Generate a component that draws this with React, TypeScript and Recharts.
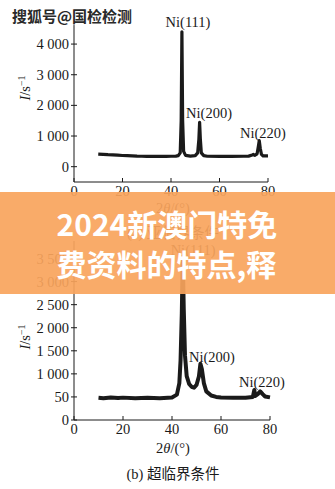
import React from 'react';
import { LineChart, Line, XAxis, YAxis, ReferenceDot } from 'recharts';

// 2θ positions and intensities
const TOP_X = [10, 12, 14, 16, 18, 20, 22, 24, 26, 28, 30, 32, 34, 36, 38, 40, 42, 43, 43.8, 44.2, 44.5, 44.8, 45.2, 46, 48, 50, 51, 51.5, 51.8, 52.1, 52.5, 53.5, 55, 60, 65, 70, 72, 73.5, 74, 74.5, 75.5, 76, 76.4, 76.8, 77.3, 78, 80];
const TOP_Y = [410, 400, 390, 385, 375, 365, 360, 355, 345, 340, 335, 335, 335, 335, 335, 340, 345, 360, 450, 1500, 4400, 1500, 500, 370, 345, 360, 450, 900, 1450, 900, 450, 360, 340, 335, 335, 340, 345, 380, 400, 370, 420, 650, 850, 600, 400, 350, 355];

const BOT_X = [10, 12, 15, 18, 20, 25, 30, 35, 40, 42, 43, 43.5, 44, 44.4, 44.8, 45.3, 46, 47, 48, 49, 50, 51, 51.6, 52.2, 53, 54, 56, 58, 60, 65, 70, 73, 73.6, 74, 75, 76, 77, 78, 80];
const BOT_Y = [480, 470, 490, 475, 485, 470, 480, 470, 490, 550, 800, 1300, 2300, 3550, 2400, 1400, 950, 780, 720, 700, 760, 950, 1220, 1100, 800, 620, 530, 500, 490, 480, 480, 500, 650, 520, 560, 620, 560, 510, 490];

const X_TICKS = [0, 20, 40, 60, 80];
const TOP_Y_TICKS = [0, 1000, 2000, 3000, 4000];
const TOP_Y_LABELS = ['0', '1 000', '2 000', '3 000', '4 000'];
const BOT_Y_TICKS = [0, 500, 1000, 1500, 2000, 2500, 3000, 3500];
const BOT_Y_LABELS = ['0', '50', '1 000', '1 500', '2 000', '2 500', '3 000', '3 500'];

const TOP_PEAKS = [
  { name: 'Ni(111)', x: 47, y: 4720 },
  { name: 'Ni(200)', x: 55.7, y: 1760 },
  { name: 'Ni(220)', x: 77.9, y: 1107 },
];
const BOT_PEAKS = [
  { name: 'Ni(111)', x: 48.6, y: 3680 },
  { name: 'Ni(200)', x: 56.3, y: 1364 },
  { name: 'Ni(220)', x: 76.7, y: 823 },
];

const SERIF = '"Liberation Serif", "DejaVu Serif", serif';
const CJK = '"Noto Sans CJK SC", sans-serif';
const INK = '#1a1a1a';
const FS = 14.5;
const PLOT_LEFT = 74;

const topData = TOP_X.map((x, i) => ({ x, y: TOP_Y[i] }));
const botData = BOT_X.map((x, i) => ({ x, y: BOT_Y[i] }));

const yTick = (ticks: number[], labels: string[]) => (props: any) => {
  const { y, payload } = props;
  const label = labels[ticks.indexOf(payload.value)] ?? String(payload.value);
  return (
    <g>
      <line x1={PLOT_LEFT - 3} x2={PLOT_LEFT + 3} y1={y} y2={y} stroke={INK} strokeWidth={1} />
      <text x={PLOT_LEFT - 5} y={y} dy={5} textAnchor="end" fontFamily={SERIF} fontSize={FS} fill={INK}>
        {label}
      </text>
    </g>
  );
};

const xTick = (axisY: number) => (props: any) => {
  const { x, payload } = props;
  return (
    <g>
      <line x1={x} x2={x} y1={axisY} y2={axisY - 4} stroke={INK} strokeWidth={1} />
      <text x={x} y={axisY + 14} textAnchor="middle" fontFamily={SERIF} fontSize={FS} fill={INK}>
        {payload.value}
      </text>
    </g>
  );
};

function Pattern({ data, height, margin, yDomain, yTicks, yLabels, peaks, axisY, lineWidth }: any) {
  return (
    <LineChart width={335} height={height} data={data} margin={margin}>
      <XAxis
        dataKey="x"
        type="number"
        domain={[0, 80]}
        ticks={X_TICKS}
        interval={0}
        height={20}
        tickLine={false}
        axisLine={{ stroke: INK }}
        tick={xTick(axisY)}
      />
      <YAxis
        type="number"
        domain={yDomain}
        ticks={yTicks}
        interval={0}
        width={30}
        tickLine={false}
        axisLine={{ stroke: INK }}
        tick={yTick(yTicks, yLabels)}
        allowDataOverflow
      />
      <Line type="linear" dataKey="y" stroke={INK} strokeWidth={lineWidth} strokeLinejoin="round" dot={false} isAnimationActive={false} />
      {peaks.map((p: any) => (
        <ReferenceDot
          key={p.name}
          x={p.x}
          y={p.y}
          r={0}
          ifOverflow="visible"
          label={{ value: p.name, position: 'center', fontFamily: SERIF, fontSize: FS, fill: INK }}
        />
      ))}
    </LineChart>
  );
}

const abs = (s: React.CSSProperties): React.CSSProperties => ({ position: 'absolute', ...s });

function YTitle({ cy }: { cy: number }) {
  return (
    <div style={abs({ left: 25, top: cy, transform: 'translate(-50%, -50%) rotate(-90deg)', fontFamily: SERIF, fontSize: FS, color: INK, whiteSpace: 'nowrap' })}>
      <i>I</i>/s<sup style={{ fontSize: 10 }}>−1</sup>
    </div>
  );
}

function XTitle({ cy }: { cy: number }) {
  return (
    <div style={abs({ left: 173, top: cy, transform: 'translate(-50%, -50%)', fontFamily: SERIF, fontSize: FS, color: INK, whiteSpace: 'nowrap' })}>
      2<i>θ</i>/(°)
    </div>
  );
}

function Caption({ cy, text }: { cy: number; text: string }) {
  return (
    <div style={abs({ left: 173, top: cy, transform: 'translate(-50%, -50%)', fontSize: FS, color: INK, whiteSpace: 'nowrap' })}>
      <span style={{ fontFamily: SERIF }}>{text.slice(0, 4)}</span>
      <span style={{ fontFamily: CJK }}>{text.slice(4)}</span>
    </div>
  );
}

export default function App() {
  return (
    <div style={abs({ left: 0, top: 0, width: 335, height: 489, background: '#fff', overflow: 'hidden' })}>
      <div style={abs({ left: 0, top: 0 })}>
        <Pattern
          data={topData}
          height={215}
          margin={{ top: 22, right: 67, bottom: 13, left: 44 }}
          yDomain={[-500, 4720]}
          yTicks={TOP_Y_TICKS}
          yLabels={TOP_Y_LABELS}
          peaks={TOP_PEAKS}
          axisY={182}
          lineWidth={3.2}
        />
      </div>
      <YTitle cy={88} />
      <XTitle cy={208} />
      <Caption cy={231} text="(a) 亚临界条件" />

      <div style={abs({ left: 0, top: 230 })}>
        <Pattern
          data={botData}
          height={230}
          margin={{ top: 11, right: 65, bottom: 20, left: 44 }}
          yDomain={[0, 3880]}
          yTicks={BOT_Y_TICKS}
          yLabels={BOT_Y_LABELS}
          peaks={BOT_PEAKS}
          axisY={190}
          lineWidth={4}
        />
      </div>
      <YTitle cy={337} />
      <XTitle cy={448} />
      <Caption cy={472} text="(b) 超临界条件" />

      <div style={abs({ left: 12, top: 5, fontFamily: CJK, fontWeight: 700, fontSize: 15, color: '#2a2a2a', textShadow: '0 0 2px #fff, 0 0 2px #fff', whiteSpace: 'nowrap' })}>
        搜狐号@国检检测
      </div>

      <div style={abs({ left: 0, top: 192, width: 335, height: 102, background: 'rgba(248,164,92,0.92)' })}>
        <div
          style={{
            width: 222,
            margin: '11px auto 0',
            fontFamily: CJK,
            fontWeight: 700,
            fontSize: 30,
            lineHeight: '40px',
            height: 80,
            overflow: 'hidden',
            color: '#fff',
            wordBreak: 'break-all',
          }}
        >
          2024新澳门特免费资料的特点,释义解释落实
        </div>
      </div>
    </div>
  );
}
